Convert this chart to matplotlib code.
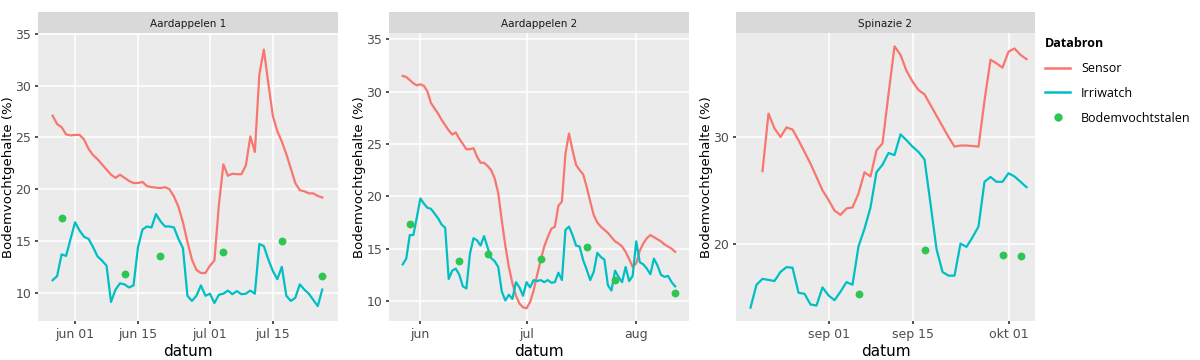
import matplotlib.pyplot as plt
import numpy as np
import pandas as pd
from matplotlib.lines import Line2D

# ---- data ----
# Aardappelen 1: daily from 2023-05-27
a1_start = "2023-05-27"
a1_sensor = [27.1, 26.3, 26.0, 25.3, 25.2, 25.25, 25.25, 24.8, 23.9, 23.3,
             22.9, 22.4, 21.9, 21.4, 21.1, 21.4, 21.1, 20.8, 20.6, 20.6,
             20.7, 20.3, 20.2, 20.15, 20.1, 20.2, 20.0, 19.3, 18.3, 16.8,
             14.9, 13.2, 12.2, 11.9, 11.9, 12.6, 13.1, 18.5, 22.4, 21.3,
             21.5, 21.45, 21.45, 22.3, 25.1, 23.6, 31.1, 33.5, 30.2, 27.1,
             25.6, 24.6, 23.4, 22.0, 20.6, 19.9, 19.8, 19.6, 19.6, 19.35, 19.2]
a1_irri = [11.2, 11.6, 13.7, 13.55, 15.2, 16.8, 16.0, 15.4, 15.2, 14.4,
           13.5, 13.1, 12.6, 9.1, 10.3, 10.9, 10.8, 10.5, 10.7, 14.4,
           16.1, 16.4, 16.3, 17.6, 16.9, 16.4, 16.4, 16.3, 15.2, 14.3,
           9.7, 9.2, 9.7, 10.7, 9.7, 9.9, 9.0, 9.8, 9.9, 10.2,
           9.85, 10.15, 9.85, 9.9, 10.2, 9.9, 14.7, 14.5, 13.2, 12.1,
           11.3, 12.5, 9.7, 9.2, 9.5, 10.8, 10.3, 9.9, 9.3, 8.7, 10.3]
a1_stal_dates = ["2023-05-29", "2023-06-12", "2023-06-20", "2023-07-04",
                 "2023-07-17", "2023-07-26"]
a1_stal = [17.2, 11.8, 13.5, 13.9, 15.0, 11.6]

# Aardappelen 2: daily from 2023-05-27
a2_start = "2023-05-27"
a2_sensor = [31.5, 31.4, 31.1, 30.8, 30.6, 30.7, 30.55, 30.0, 28.9, 28.4,
             27.9, 27.3, 26.8, 26.3, 25.9, 26.1, 25.5, 25.0, 24.5, 24.5,
             24.6, 23.8, 23.2, 23.2, 22.9, 22.5, 21.7, 20.3, 17.7, 15.3,
             13.25, 11.7, 10.5, 9.75, 9.4, 9.3, 9.9, 11.0, 12.5, 13.9,
             15.2, 16.1, 16.9, 17.1, 19.1, 19.5, 24.1, 26.0, 24.4, 23.0,
             22.5, 22.1, 20.9, 19.5, 18.2, 17.5, 17.1, 16.8, 16.5, 16.1,
             15.7, 15.5, 15.2, 14.7, 14.0, 13.25, 13.6, 14.8, 15.5, 16.0,
             16.3, 16.1, 15.9, 15.7, 15.4, 15.2, 15.0, 14.7]
a2_irri = [13.5, 14.05, 16.3, 16.3, 18.0, 19.8, 19.3, 18.9, 18.8, 18.35,
           17.9, 17.3, 17.0, 12.1, 12.9, 13.1, 12.5, 11.4, 11.2, 14.5,
           16.0, 15.8, 15.3, 16.2, 15.1, 14.1, 13.8, 13.25, 10.9, 10.05,
           10.6, 10.2, 11.8, 11.3, 10.5, 11.8, 11.3, 12.0, 11.9, 12.0,
           11.8, 12.0, 11.75, 11.8, 12.7, 12.0, 16.8, 17.1, 16.3, 15.3,
           15.2, 13.9, 13.0, 12.0, 12.8, 14.6, 14.2, 13.95, 11.5, 11.0,
           12.9, 12.3, 11.8, 13.25, 11.9, 12.4, 15.7, 13.7, 13.5, 13.1,
           12.55, 14.05, 13.4, 12.5, 12.3, 12.4, 11.8, 11.4]
a2_stal_dates = ["2023-05-29", "2023-06-12", "2023-06-20", "2023-07-05",
                 "2023-07-18", "2023-07-26", "2023-08-12"]
a2_stal = [17.4, 13.8, 14.45, 14.0, 15.2, 12.0, 10.75]

# Spinazie 2
s2_sensor_start = "2023-08-21"
s2_sensor = [26.8, 32.2, 30.8, 30.0, 30.9, 30.7, 29.7, 28.6, 27.5, 26.25,
             25.0, 24.1, 23.1, 22.7, 23.3, 23.4, 24.7, 26.7, 26.3, 28.75,
             29.4, 34.0, 38.5, 37.7, 36.2, 35.2, 34.4, 34.0, 33.0, 32.0,
             31.0, 30.0, 29.1, 29.2, 29.2, 29.15, 29.1, 33.4, 37.25, 36.9,
             36.5, 38.0, 38.3, 37.7, 37.3]
s2_irri_start = "2023-08-19"
s2_irri = [14.0, 16.15, 16.7, 16.6, 16.5, 17.35, 17.8, 17.75, 15.4, 15.3,
           14.3, 14.2, 15.9, 15.15, 14.7, 15.5, 16.4, 16.15, 19.75, 21.4,
           23.4, 26.7, 27.4, 28.5, 28.3, 30.25, 29.7, 29.1, 28.6, 27.9,
           23.75, 19.5, 17.35, 17.0, 17.0, 20.0, 19.7, 20.6, 21.6, 25.8,
           26.25, 25.8, 25.8, 26.6, 26.3, 25.8, 25.3]
s2_stal_dates = ["2023-09-06", "2023-09-17", "2023-09-30", "2023-10-03"]
s2_stal = [15.25, 19.45, 18.9, 18.8]

# axis settings per panel
titles = ["Aardappelen 1", "Aardappelen 2", "Spinazie 2"]
xticks = [["2023-06-01", "2023-06-15", "2023-07-01", "2023-07-15"],
          ["2023-06-01", "2023-07-01", "2023-08-01"],
          ["2023-09-01", "2023-09-15", "2023-10-01"]]
xticklabels = [["jun 01", "jun 15", "jul 01", "jul 15"],
               ["jun", "jul", "aug"],
               ["sep 01", "sep 15", "okt 01"]]
xlims = [("2023-05-23 18:00", "2023-07-29 12:00"),
         ("2023-05-23 03:00", "2023-08-15 22:00"),
         ("2023-08-16 14:00", "2023-10-05 10:00")]
yticks = [[10, 15, 20, 25, 30, 35], [10, 15, 20, 25, 30, 35], [20, 30]]
ylims = [(7.26, 35.1), (8.09, 35.6), (12.75, 39.75)]

RED = "#F8766D"
CYAN = "#00BFC4"
GREEN = "#2DC653"

panels = [
    (a1_start, a1_sensor, a1_start, a1_irri, a1_stal_dates, a1_stal),
    (a2_start, a2_sensor, a2_start, a2_irri, a2_stal_dates, a2_stal),
    (s2_sensor_start, s2_sensor, s2_irri_start, s2_irri, s2_stal_dates, s2_stal),
]

fig = plt.figure(figsize=(12, 3.6), dpi=100)
W, H = 1200, 360
lefts = [38, 389, 736]
widths = [300, 300, 299]
top_px, bottom_px, strip_px = 33, 321, 21

for i, (ss, sv, si, iv, gd, gv) in enumerate(panels):
    l, w = lefts[i], widths[i]
    ax = fig.add_axes([l / W, 1 - bottom_px / H, w / W, (bottom_px - top_px) / H])
    ax.set_facecolor("#EBEBEB")
    for sp in ax.spines.values():
        sp.set_visible(False)

    sd = pd.date_range(ss, periods=len(sv), freq="D")
    idt = pd.date_range(si, periods=len(iv), freq="D")
    ax.plot(sd, sv, color=RED, lw=1.6, zorder=3)
    ax.plot(idt, iv, color=CYAN, lw=1.6, zorder=3)
    ax.scatter(pd.to_datetime(gd), gv, color=GREEN, s=32, zorder=4, linewidths=0)

    ax.set_xlim(pd.Timestamp(xlims[i][0]), pd.Timestamp(xlims[i][1]))
    ax.set_ylim(*ylims[i])
    ax.set_xticks(pd.to_datetime(xticks[i]))
    ax.set_xticklabels(xticklabels[i])
    ax.set_yticks(yticks[i])
    ax.grid(True, color="white", lw=1.1, zorder=0)
    ax.set_axisbelow(True)
    ax.tick_params(axis="both", length=2, width=1.2, color="#333333",
                   labelcolor="#4D4D4D", labelsize=9, pad=3)
    ax.set_xlabel("datum", fontsize=11, color="black", labelpad=2)
    ax.set_ylabel("Bodemvochtgehalte (%)", fontsize=9.5, color="black", labelpad=0)

    # facet strip
    sax = fig.add_axes([l / W, 1 - top_px / H, w / W, strip_px / H])
    sax.set_facecolor("#D9D9D9")
    sax.set_xticks([])
    sax.set_yticks([])
    for sp in sax.spines.values():
        sp.set_visible(False)
    sax.text(0.5, 0.45, titles[i], ha="center", va="center", fontsize=7.5,
             color="#1A1A1A", transform=sax.transAxes)

# legend
handles = [Line2D([], [], color=RED, lw=1.8),
           Line2D([], [], color=CYAN, lw=1.8),
           Line2D([], [], color=GREEN, marker="o", ls="none", markersize=6,
                  markeredgewidth=0)]
leg = fig.legend(handles, ["Sensor", "Irriwatch", "Bodemvochtstalen"],
                 title="Databron", loc="upper left",
                 bbox_to_anchor=(1045 / W, 1 - 37 / H), frameon=False,
                 prop={"family": "Open Sans", "size": 9},
                 handlelength=2.0, handletextpad=0.9, labelspacing=0.95,
                 borderaxespad=0, borderpad=0)
leg.get_title().set_fontproperties({"family": "Open Sans", "size": 9, "weight": "bold"})
leg._legend_box.align = "left"

fig.savefig("out.png", dpi=100, facecolor="white")
